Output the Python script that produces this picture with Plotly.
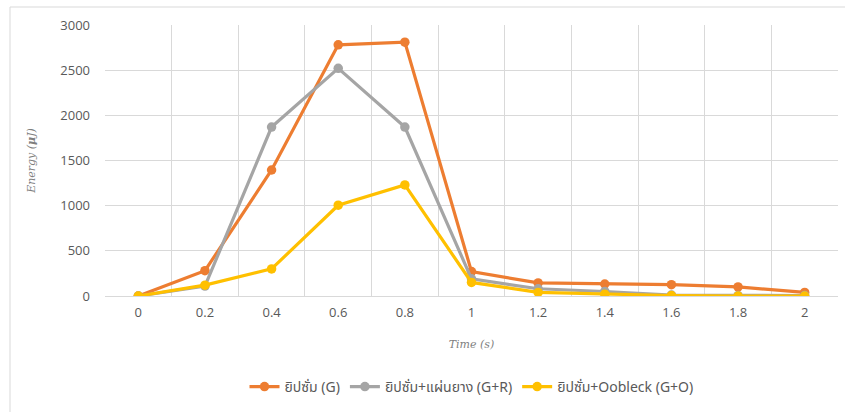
import plotly.graph_objects as go

# Time points (s) and energy readings (µJ) for each specimen
time_labels = ["0", "0.2", "0.4", "0.6", "0.8", "1", "1.2", "1.4", "1.6", "1.8", "2"]
energy_g = [0, 280, 1395, 2780, 2810, 270, 145, 133, 125, 100, 40]
energy_gr = [0, 110, 1870, 2520, 1870, 190, 80, 50, 10, 5, 5]
energy_go = [0, 120, 300, 1005, 1230, 150, 40, 20, 5, 0, 0]

series = [
    ("ยิปซั่ม (G)", energy_g, "#ED7D31"),
    ("ยิปซั่ม+แผ่นยาง (G+R)", energy_gr, "#A5A5A5"),
    ("ยิปซั่ม+Oobleck (G+O)", energy_go, "#FFC000"),
]

W, H = 845, 412
ML, MR, MT, MB = 105, 7, 25, 116
pw, ph = W - ML - MR, H - MT - MB

def px_x(px):
    return (px - ML) / pw

def px_y(py):
    return (H - MB - py) / ph

fig = go.Figure()
for name, vals, color in series:
    fig.add_trace(go.Scatter(
        x=time_labels, y=vals, name=name, mode="lines+markers",
        line=dict(color=color, width=3.2),
        marker=dict(color=color, size=9.5),
    ))

tick_font = dict(family="Open Sans, Noto Sans, sans-serif", size=13, color="#595959")
grid = "#D9D9D9"

fig.update_layout(
    width=W, height=H,
    margin=dict(l=ML, r=MR, t=MT, b=MB),
    paper_bgcolor="white", plot_bgcolor="white",
    showlegend=True,
    legend=dict(
        orientation="h", x=0.5, xanchor="center", y=px_y(387), yanchor="middle",
        font=dict(family="Noto Sans, Noto Sans Thai, sans-serif", size=14, color="#595959"),
        itemwidth=30, traceorder="normal",
    ),
    xaxis=dict(
        type="category", range=[-0.5, 10.5], tickson="boundaries",
        showgrid=True, gridcolor=grid, gridwidth=1,
        ticks="", tickfont=tick_font, showline=True, linecolor=grid, mirror=False,
        ticklabelstandoff=4,
        title=dict(text="Time (s)", standoff=20,
                   font=dict(family="DejaVu Serif, Liberation Serif, serif", size=11,
                             color="#7F7F7F", style="italic")),
    ),
    yaxis=dict(
        range=[0, 3000], dtick=500, showgrid=True, gridcolor=grid, gridwidth=1,
        zeroline=True, zerolinecolor=grid, zerolinewidth=1,
        tickfont=tick_font, ticks="", ticklabelstandoff=14,
        title=dict(text="Energy (<b>μ</b>J)", standoff=22,
                   font=dict(family="DejaVu Serif, Liberation Serif, serif", size=11,
                             color="#7F7F7F", style="italic")),
    ),
    shapes=[dict(
        type="rect", xref="paper", yref="paper",
        x0=px_x(10), x1=px_x(860), y0=px_y(420), y1=px_y(7),
        line=dict(color="#D9D9D9", width=1), fillcolor="rgba(0,0,0,0)", layer="below",
    )],
)

fig.write_html("out.html")
